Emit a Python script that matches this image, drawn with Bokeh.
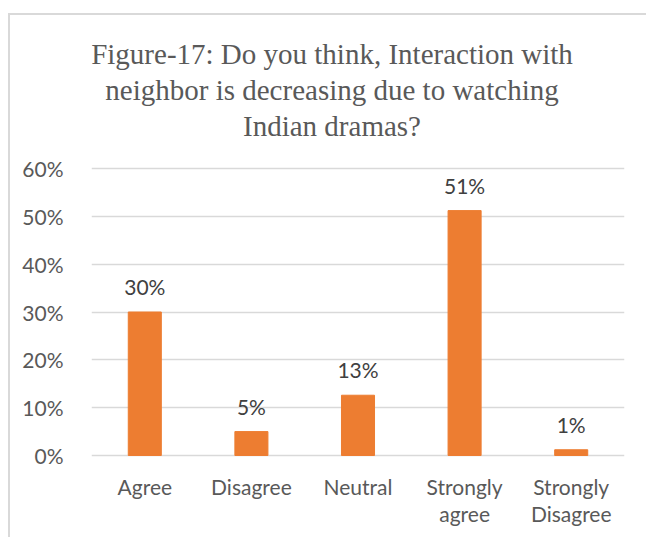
from bokeh.plotting import figure
from bokeh.models import ColumnDataSource, NumeralTickFormatter, FixedTicker, LabelSet, Label, Range1d
from bokeh.core.properties import value
from bokeh.embed import file_html
from bokeh.resources import INLINE

categories = ["Agree", "Disagree", "Neutral", "Strongly agree", "Strongly Disagree"]
tick_line1 = ["Agree", "Disagree", "Neutral", "Strongly", "Strongly"]
tick_line2 = ["", "", "", "agree", "Disagree"]
values = [0.30, 0.05, 0.126, 0.512, 0.012]
value_labels = ["30%", "5%", "13%", "51%", "1%"]
y_ticks = [0, 0.1, 0.2, 0.3, 0.4, 0.5, 0.6]
title_lines = ["Figure-17: Do you think, Interaction with",
               "neighbor is decreasing due to watching",
               "Indian dramas?"]

# layout (pixels)
W, H = 638, 524
frame_px_per_unit = 478.3          # 10% == 47.83 px
below_zero_px = 84
above_top_px = 153
y_max = y_ticks[-1]
y_start = -below_zero_px / frame_px_per_unit
y_end = y_max + above_top_px / frame_px_per_unit

src = ColumnDataSource(dict(cat=categories, val=values, lab=value_labels,
                            t1=tick_line1, t2=tick_line2, zero=[0] * len(categories)))

p = figure(x_range=categories, y_range=Range1d(y_start, y_end), width=W, height=H,
           output_backend="svg", toolbar_location=None,
           min_border_left=81, min_border_right=24, min_border_bottom=0, min_border_top=0)
p.styles = {"margin-left": "8px", "margin-top": "13px",
            "border-left": "2px solid #d9d9d9", "border-top": "2px solid #d9d9d9"}

p.vbar(x="cat", top="val", width=0.31, source=src, color="#ED7D31")
p.add_layout(LabelSet(x="cat", y="val", text="lab", source=src, text_align="center",
                      text_baseline="alphabetic", y_offset=17, text_font=value("Lato"),
                      text_font_size="21px", text_color="#404040"))
for col, off in (("t1", -40), ("t2", -67)):
    p.add_layout(LabelSet(x="cat", y="zero", text=col, source=src, text_align="center",
                          text_baseline="alphabetic", y_offset=off, text_font=value("Lato"),
                          text_font_size="21px", text_color="#595959"))

for line, off in zip(title_lines, (115, 79, 43)):
    p.add_layout(Label(x=len(categories) / 2, y=y_max, x_offset=-26, y_offset=off, text=line,
                       text_align="center", text_baseline="middle",
                       text_font="Liberation Serif", text_font_size="29px",
                       text_color="#595959"))

p.outline_line_color = None
p.xaxis.visible = False
p.xgrid.grid_line_color = None
p.ygrid.grid_line_color = "#d9d9d9"
p.ygrid.grid_line_width = 1.5
p.ygrid.ticker = FixedTicker(ticks=y_ticks)
p.yaxis.ticker = FixedTicker(ticks=y_ticks)
p.yaxis.formatter = NumeralTickFormatter(format="0%")
p.yaxis.axis_line_color = None
p.yaxis.major_tick_line_color = None
p.yaxis.minor_tick_line_color = None
p.yaxis.major_label_standoff = 22
p.yaxis.major_label_text_font = "Lato"
p.yaxis.major_label_text_font_size = "21px"
p.yaxis.major_label_text_color = "#595959"

open("out.html", "w").write(file_html(p, INLINE))
